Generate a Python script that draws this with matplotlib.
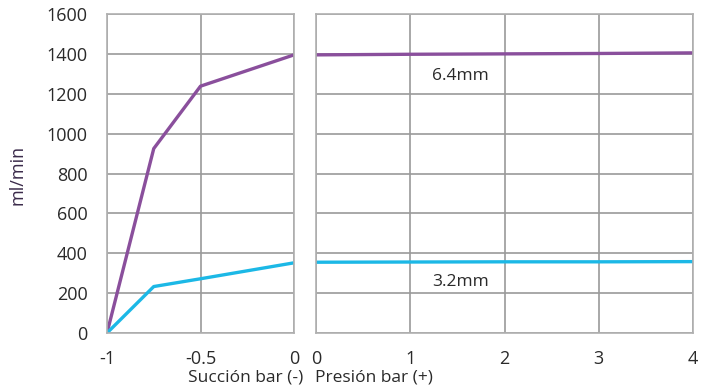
import matplotlib.pyplot as plt

plt.rcParams["font.family"] = ["Open Sans", "DejaVu Sans"]

# Data
suc_x = [-1, -0.75, -0.5, 0]
suc_64 = [0, 925, 1238, 1395]
suc_32 = [0, 233, 272, 352]

pres_x = [0, 1, 2, 3, 4]
pres_64 = [1395, 1398, 1400, 1402, 1405]
pres_32 = [355, 356, 357, 357, 358]

y_ticks = [0, 200, 400, 600, 800, 1000, 1200, 1400, 1600]
purple = "#8a4f9c"
cyan = "#1cb8e6"
grid_c = "#9a9a9a"
text_c = "#2a2a2a"

W, H = 701, 388
fig = plt.figure(figsize=(W / 100, H / 100), dpi=100)
ax1 = fig.add_axes([107 / W, 55 / H, 187 / W, 319 / H])
ax2 = fig.add_axes([316 / W, 55 / H, 377 / W, 319 / H])

for ax in (ax1, ax2):
    ax.set_ylim(0, 1600)
    ax.set_yticks(y_ticks)
    ax.grid(True, color=grid_c, linewidth=1.2)
    ax.set_axisbelow(True)
    for s in ax.spines.values():
        s.set_color("#b0b0b0")
        s.set_linewidth(1.2)
    ax.tick_params(length=0, labelsize=13, colors=text_c)
    ax.tick_params(axis="x", pad=12)
    ax.tick_params(axis="y", pad=14)

ax1.plot(suc_x, suc_64, color=purple, lw=2.4, solid_capstyle="butt")
ax1.plot(suc_x, suc_32, color=cyan, lw=2.4, solid_capstyle="butt")
ax1.set_xlim(-1, 0)
ax1.set_xticks([-1, -0.5, 0])
ax1.set_xticklabels(["-1", "-0.5", "0"])

ax2.plot(pres_x, pres_64, color=purple, lw=2.4, solid_capstyle="butt")
ax2.plot(pres_x, pres_32, color=cyan, lw=2.4, solid_capstyle="butt")
ax2.set_xlim(0, 4)
ax2.set_xticks(pres_x)
ax2.tick_params(axis="y", labelleft=False)
ax2.text(1.53, 1290, "6.4mm", fontsize=12.5, color=text_c, ha="center", va="center")
ax2.text(1.53, 255, "3.2mm", fontsize=12.5, color=text_c, ha="center", va="center")

fig.text(303 / W, 1 - 378 / H, "Succión bar (-)", fontsize=12.5, color=text_c,
         ha="right", va="center")
fig.text(315 / W, 1 - 378 / H, "Presión bar (+)", fontsize=12.5, color=text_c,
         ha="left", va="center")
fig.text(18 / W, 1 - 175 / H, "ml/min", fontsize=13, color="#3a2a4a",
         rotation=90, ha="center", va="center")

fig.savefig("out.png", dpi=100)
